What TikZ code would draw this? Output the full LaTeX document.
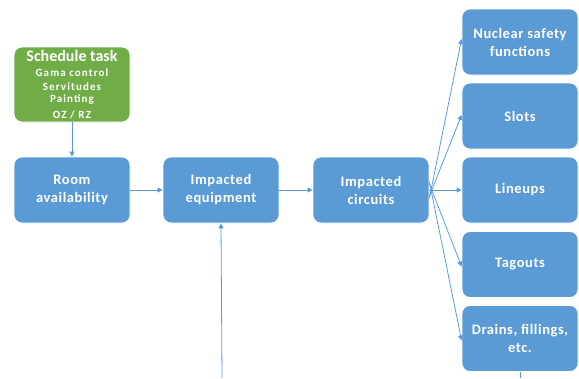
\documentclass[tikz,border=0pt]{standalone}
\usepackage{fontspec}
\setmainfont{Carlito}
\usetikzlibrary{arrows.meta}
\definecolor{boxblue}{HTML}{5B9BD5}
\definecolor{boxgreen}{HTML}{70AD47}
\definecolor{edgeblue}{HTML}{5B9BD5}
\tikzset{
  flowbox/.style={draw=white, line width=0.8pt, fill=boxblue, rounded corners=8pt,
    minimum width=116pt, minimum height=66pt, text=white, align=center, inner sep=1pt,
    font=\fontsize{14.5}{18}\selectfont\bfseries\addfontfeatures{LetterSpace=4}},
  taskbox/.style={flowbox, fill=boxgreen, minimum height=75pt},
  link/.style={draw=edgeblue, line width=0.8pt, -{Triangle[length=5pt,width=5pt]}},
  plain/.style={draw=edgeblue, line width=0.8pt}
}
\newcommand{\sublabel}[1]{{\fontsize{11}{13}\selectfont\addfontfeatures{LetterSpace=10}#1}}
\begin{document}
\begin{tikzpicture}[x=1pt,y=-1pt]
\useasboundingbox (0,0) rectangle (579,378);
% left column
\node[taskbox] (task) at (72,84.5) {{\fontsize{16}{16}\selectfont\addfontfeatures{LetterSpace=0}Schedule task}\\[-3pt]
  \sublabel{Gama control}\\[-4pt]
  \sublabel{Servitudes}\\[-6pt]
  \sublabel{Painting}\\[-2pt]
  \sublabel{OZ / RZ}};
\node[flowbox] (room) at (72,190) {Room\\availability};
\node[flowbox] (equip) at (221,190) {Impacted\\equipment};
\node[flowbox] (circ) at (371,190) {Impacted\\circuits};
% right column
\node[flowbox] (nsf) at (520,42) {Nuclear safety\\functions};
\node[flowbox] (slots) at (520,116) {Slots};
\node[flowbox] (lineups) at (520,190) {Lineups};
\node[flowbox] (tagouts) at (520,264.5) {Tagouts};
\node[flowbox] (drains) at (520,338.5) {Drains, fillings,\\etc.};
% free ends at the lower edge
\coordinate (eqin) at (222,378);
\coordinate (drout) at (520,378);
% connectors
\draw[link] (task.south) -- (room.north);
\draw[link] (room.east) -- (equip.west);
\draw[link] (equip.east) -- (circ.west);
\draw[link] (eqin) -- (equip.south);
\draw[link] (circ.east) -- (lineups.west);
\draw[link] ([yshift=-8pt]circ.east) -- ([yshift=3pt]nsf.west);
\draw[link] ([yshift=-6pt]circ.east) -- ([yshift=1pt]slots.west);
\draw[link] ([yshift=6pt]circ.east) -- ([yshift=-2pt]tagouts.west);
\draw[link] ([yshift=8pt]circ.east) -- ([yshift=-2pt]drains.west);
\draw[plain] (drains.south) -- (drout);
\end{tikzpicture}
\end{document}
